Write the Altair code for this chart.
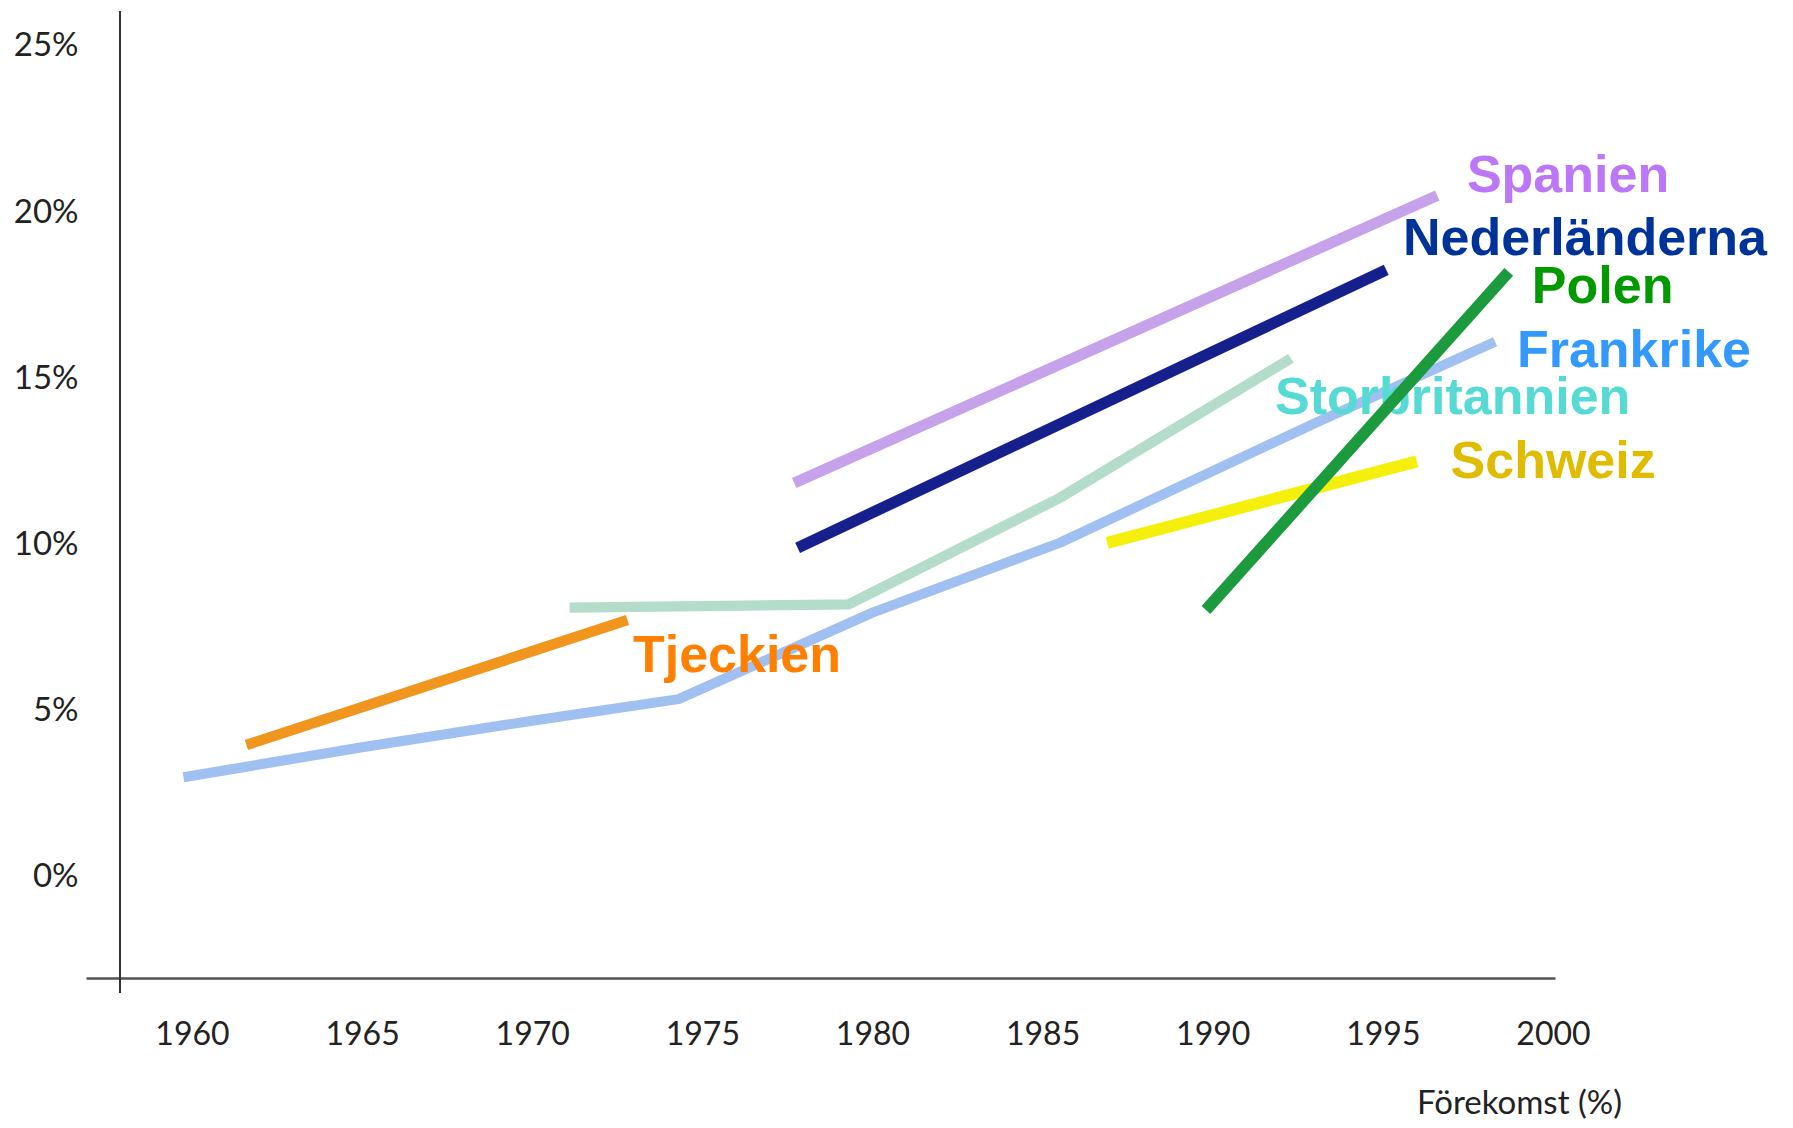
import altair as alt
import pandas as pd

# ---- data ----
countries = ["Frankrike", "Storbritannien", "Tjeckien", "Spanien", "Nederländerna", "Polen", "Schweiz"]

frankrike_years = [1959.75, 1965, 1970, 1974.3, 1980, 1985.5, 1993, 1998.3]
frankrike_vals = [3.0, 3.9, 4.7, 5.35, 7.95, 10.05, 13.65, 16.1]

storbritannien_years = [1971.1, 1979.3, 1985.5, 1992.3]
storbritannien_vals = [8.1, 8.2, 11.4, 15.6]

tjeckien_years = [1961.6, 1972.8]
tjeckien_vals = [3.97, 7.73]

spanien_years = [1977.7, 1996.6]
spanien_vals = [11.85, 20.5]

nederlanderna_years = [1977.8, 1995.1]
nederlanderna_vals = [9.9, 18.26]

polen_years = [1989.8, 1998.7]
polen_vals = [8.03, 18.2]

schweiz_years = [1986.9, 1996.0]
schweiz_vals = [10.05, 12.5]

# label anchors (year, percent) for the country names
label_years = [1998.94, 1991.83, 1972.96, 1997.47, 1995.59, 1999.38, 1996.99]
label_vals = [15.34, 13.93, 6.17, 20.61, 18.71, 17.27, 12.0]

x_ticks = [1960, 1965, 1970, 1975, 1980, 1985, 1990, 1995, 2000]
y_ticks = [0, 5, 10, 15, 20, 25]

# ---- styles ----
line_colors = ["#9fc0f0", "#b3dccb", "#f0961e", "#c6a2ea", "#16208c", "#1b9a3e", "#f4f00c"]
line_widths = [10, 12, 10, 10, 11, 10, 14]
label_colors = ["#3399ff", "#55dbd3", "#ff7f00", "#bb77f7", "#003399", "#009900", "#e0bc00"]

series = {
    "Frankrike": (frankrike_years, frankrike_vals),
    "Storbritannien": (storbritannien_years, storbritannien_vals),
    "Tjeckien": (tjeckien_years, tjeckien_vals),
    "Spanien": (spanien_years, spanien_vals),
    "Nederländerna": (nederlanderna_years, nederlanderna_vals),
    "Polen": (polen_years, polen_vals),
    "Schweiz": (schweiz_years, schweiz_vals),
}

rows = []
for c in countries:
    ys, vs = series[c]
    for i, (yy, vv) in enumerate(zip(ys, vs)):
        rows.append({"country": c, "year": yy, "value": vv, "idx": i})
lines_df = pd.DataFrame(rows)

labels_df = pd.DataFrame({"country": countries, "year": label_years, "value": label_vals})

axis_font = "Lato, sans-serif"

x_scale = alt.Scale(domain=[1956.885, 2000.06], nice=False, zero=False)
y_scale = alt.Scale(domain=[-3.04, 26.05], nice=False, zero=False)

x_axis = alt.Axis(
    values=x_ticks, format="d", grid=False, ticks=False, tickSize=0,
    labelFont=axis_font, labelFontSize=32, labelColor="#222222", labelPadding=41,
    labelFlush=False, labelOverlap=False,
    domainColor="#555555", domainWidth=2.5,
    title="Förekomst (%)", titleFont=axis_font, titleFontSize=33, titleFontWeight="normal",
    titleColor="#222222", titleX=1433, titleY=135, titleAlign="center", titleBaseline="alphabetic",
)
y_axis = alt.Axis(
    values=y_ticks, labelExpr="datum.value + '%'", grid=False, domain=False,
    ticks=False, tickSize=0, labelPadding=8,
    labelFont=axis_font, labelFontSize=33, labelColor="#222222", title=None,
)

X = alt.X("year:Q", scale=x_scale, axis=x_axis)
Y = alt.Y("value:Q", scale=y_scale, axis=y_axis)

color_enc = alt.Color("country:N", scale=alt.Scale(domain=countries, range=line_colors), legend=None)
width_enc = alt.StrokeWidth("country:N", scale=alt.Scale(domain=countries, range=line_widths), legend=None)

base_lines = alt.Chart(lines_df).mark_line(strokeCap="butt", strokeJoin="round").encode(
    x=X, y=Y, color=color_enc, strokeWidth=width_enc, detail="country:N", order="idx:Q"
)
lines_main = base_lines.transform_filter("datum.country != 'Polen'")
lines_top = base_lines.transform_filter("datum.country == 'Polen'")

text = alt.Chart(labels_df).mark_text(
    align="left", baseline="alphabetic", font="Liberation Sans, Arial, sans-serif",
    fontWeight="bold", fontSize=52
).encode(
    x=X, y=Y, text="country:N",
    color=alt.Color("country:N", scale=alt.Scale(domain=countries, range=label_colors), legend=None),
)

y_line = alt.Chart(pd.DataFrame({"a": [0]})).mark_rule(color="#333333", strokeWidth=2).encode(
    x=alt.value(34), y=alt.value(0), y2=alt.value(982)
)

chart = alt.layer(y_line, lines_main, text, lines_top).resolve_scale(
    color="independent"
).properties(
    width=1469, height=967,
    autosize=alt.AutoSizeParams(type="none"),
    padding={"left": 78, "top": 3, "right": 225, "bottom": 142},
    background="#ffffff",
).configure_view(stroke=None)

chart.save("out.html", embed_options={"renderer": "svg", "actions": False})
